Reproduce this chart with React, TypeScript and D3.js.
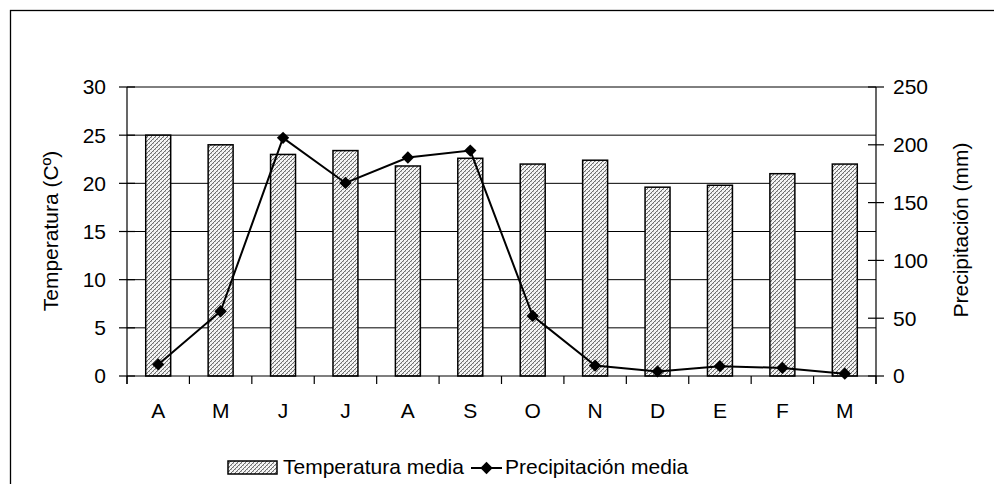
import React from "react";
import * as d3 from "d3";

const months = ["A", "M", "J", "J", "A", "S", "O", "N", "D", "E", "F", "M"];
const temperature = [25, 24, 23, 23.4, 21.8, 22.6, 22, 22.4, 19.6, 19.8, 21, 22];
const precipitation = [10, 56, 206, 167, 189, 195, 52, 9, 4, 8.5, 7, 2];
const tempTicks = [0, 5, 10, 15, 20, 25, 30];
const precTicks = [0, 50, 100, 150, 200, 250];

const W = 1002;
const H = 492;
const left = 127;
const right = 876;
const top = 87;
const bottom = 376;
const FONT = "'Liberation Sans', Arial, sans-serif";
const FS = 21;

export default function App() {
  const idx = months.map((_, i) => i);
  const x = d3.scaleBand<number>().domain(idx).range([left, right]).padding(0);
  const yT = d3.scaleLinear().domain([0, 30]).range([bottom, top]);
  const yP = d3.scaleLinear().domain([0, 250]).range([bottom, top]);
  const bw = x.bandwidth() * 0.4;
  const cx = (i: number) => (x(i) as number) + x.bandwidth() / 2;
  const line = d3
    .line<number>()
    .x((_, i) => cx(i))
    .y((d) => yP(d));
  const diamond = d3.symbol().type(d3.symbolSquare).size(76)() as string;
  const boundaries = d3.range(months.length + 1).map((i) => left + i * x.step());

  return (
    <div style={{ margin: -8 }}>
      <svg width={W} height={H} style={{ display: "block", fontFamily: FONT }}>
        <defs>
          <pattern id="hatch" width="4" height="4" patternUnits="userSpaceOnUse">
            <rect width="4" height="4" fill="#f4f4f4" />
            <g fill="#6e6e6e" shapeRendering="crispEdges">
              <rect x="0" y="3" width="1" height="1" />
              <rect x="1" y="2" width="1" height="1" />
              <rect x="2" y="1" width="1" height="1" />
              <rect x="3" y="0" width="1" height="1" />
            </g>
            <g fill="#b8b8b8" shapeRendering="crispEdges">
              <rect x="1" y="3" width="1" height="1" />
              <rect x="3" y="1" width="1" height="1" />
            </g>
          </pattern>
        </defs>
        <rect x={10.5} y={10.5} width={1010} height={510} fill="#fff" stroke="#000" strokeWidth={1.3} />

        {/* gridlines */}
        {tempTicks.slice(1).map((t) => (
          <line key={"g" + t} x1={left} x2={right} y1={yT(t)} y2={yT(t)} stroke="#000" strokeWidth={1} />
        ))}

        {/* bars */}
        {temperature.map((t, i) => (
          <rect
            key={"b" + i}
            x={cx(i) - bw / 2}
            y={yT(t)}
            width={bw}
            height={bottom - yT(t)}
            fill="url(#hatch)"
            stroke="#000"
            strokeWidth={1.5}
          />
        ))}

        {/* axes */}
        <line x1={left} x2={left} y1={top} y2={bottom + 8} stroke="#000" strokeWidth={1.2} />
        {tempTicks.map((t) => (
          <g key={"lt" + t}>
            <line x1={left - 8} x2={left + 8} y1={yT(t)} y2={yT(t)} stroke="#000" strokeWidth={1.2} />
            <text x={106} y={yT(t)} dy="0.35em" textAnchor="end" fontSize={FS} fill="#000">
              {t}
            </text>
          </g>
        ))}
        <line x1={right} x2={right} y1={top} y2={bottom + 8} stroke="#000" strokeWidth={1.2} />
        {precTicks.map((t) => (
          <g key={"rt" + t}>
            <line x1={right - 8} x2={right + 8} y1={yP(t)} y2={yP(t)} stroke="#000" strokeWidth={1.2} />
            <text x={893} y={yP(t)} dy="0.35em" textAnchor="start" fontSize={FS} fill="#000">
              {t}
            </text>
          </g>
        ))}
        <line x1={left} x2={right} y1={bottom} y2={bottom} stroke="#000" strokeWidth={1.2} />
        {boundaries.map((bx, i) => (
          <line key={"xt" + i} x1={bx} x2={bx} y1={bottom} y2={bottom + 8} stroke="#000" strokeWidth={1.2} />
        ))}
        {months.map((m, i) => (
          <text key={"xl" + i} x={cx(i)} y={411} dy="0.35em" textAnchor="middle" fontSize={FS} fill="#000">
            {m}
          </text>
        ))}

        {/* precipitation line */}
        <path d={line(precipitation) as string} fill="none" stroke="#000" strokeWidth={2} />
        {precipitation.map((p, i) => (
          <path key={"d" + i} d={diamond} transform={`translate(${cx(i)},${yP(p)}) rotate(45)`} fill="#000" />
        ))}

        {/* axis titles */}
        <text transform={`translate(51,231) rotate(-90)`} textAnchor="middle" dy="0.35em" fontSize={FS} fill="#000">
          Temperatura (Cº)
        </text>
        <text transform={`translate(961,230) rotate(-90)`} textAnchor="middle" dy="0.35em" fontSize={FS} fill="#000">
          Precipitación (mm)
        </text>

        {/* legend */}
        <rect x={228} y={461} width={49} height={13} fill="url(#hatch)" stroke="#000" strokeWidth={1.5} />
        <text x={283} y={467} dy="0.35em" fontSize={FS} fill="#000">
          Temperatura media
        </text>
        <line x1={471} x2={502} y1={468} y2={468} stroke="#000" strokeWidth={2} />
        <path d={diamond} transform={`translate(486.5,468) rotate(45)`} fill="#000" />
        <text x={505} y={467} dy="0.35em" fontSize={FS} fill="#000">
          Precipitación media
        </text>
      </svg>
    </div>
  );
}
